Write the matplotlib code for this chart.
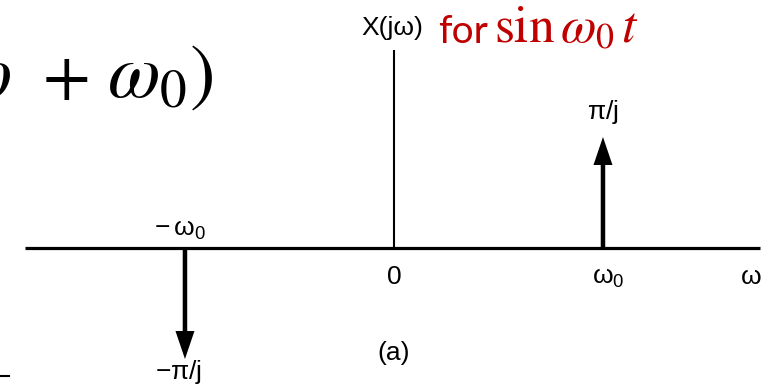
import matplotlib
matplotlib.use("Agg")
import matplotlib.pyplot as plt
from matplotlib.lines import Line2D

# Impulse locations (multiples of w0) and weights (multiples of pi, imaginary)
impulse_freqs = [-1.0, 1.0]
impulse_weights = [-1.0, 1.0]
weight_labels = [r"$\mathregular{-\pi/j}$", r"$\mathregular{\pi/j}$"]
freq_labels = [r"$\mathregular{-\,\omega_0}$", r"$\mathregular{\omega_0}$"]
origin_label = "0"
axis_label = "ω"
spectrum_label = "X(jω)"
caption = "(a)"
title_word = "for"
title_math = r"$\mathrm{sin}\,\omega_0\,t$"
formula_parts = [r"$\omega$", r"$+$", r"$\omega_0)$"]

W, H, DPI = 766, 385, 100
LABEL_FONT = "Liberation Sans"
LABEL_SIZE = 19

fig = plt.figure(figsize=(W / DPI, H / DPI), dpi=DPI)
ax = fig.add_axes([0, 0, 1, 1])
ax.set_xlim(-1.885, 1.780)
ax.set_ylim(-1.234, 2.234)
ax.axis("off")

# frequency axis and vertical axis
ax.plot([-1.766, 1.751], [0, 0], color="black", lw=2.3, solid_capstyle="butt")
ax.plot([0, 0], [0, 1.784], color="black", lw=1.5, solid_capstyle="butt")

# impulses
px_x = 209.0  # pixels per unit on x
px_y = 111.0  # pixels per unit on y
for f, w in zip(impulse_freqs, impulse_weights):
    ax.arrow(f, 0, 0, w, width=4.5 / px_x, head_width=19 / px_x,
             head_length=28 / px_y, length_includes_head=True,
             color="black", lw=0)

txt = dict(family=LABEL_FONT, fontsize=LABEL_SIZE, color="black")

# weight labels
for f, w, lab in zip(impulse_freqs, impulse_weights, weight_labels):
    if w > 0:
        ax.annotate(lab, xy=(f, w), xytext=(0, 25), textcoords="offset pixels",
                    ha="center", va="center", **txt)
    else:
        ax.annotate(lab, xy=(f, w), xytext=(-6, -20), textcoords="offset pixels",
                    ha="center", va="baseline", **txt)

# frequency labels: below the axis for positive, above for negative
for f, w, lab in zip(impulse_freqs, impulse_weights, freq_labels):
    if w > 0:
        ax.annotate(lab, xy=(f, 0), xytext=(5, -36), textcoords="offset pixels",
                    ha="center", va="baseline", **txt)
    else:
        ax.annotate(lab, xy=(f, 0), xytext=(-5, 12), textcoords="offset pixels",
                    ha="center", va="baseline", **txt)

ax.annotate(origin_label, xy=(0, 0), xytext=(0, -36), textcoords="offset pixels",
            ha="center", va="baseline", **txt)
ax.annotate(axis_label, xy=(1.751, 0), xytext=(-9, -36), textcoords="offset pixels",
            ha="center", va="baseline", **txt)
ax.annotate(spectrum_label, xy=(0, 1.784), xytext=(-2, 15), textcoords="offset pixels",
            ha="center", va="baseline", **txt)
ax.annotate(caption, xy=(0, 0), xytext=(0, -105), textcoords="offset pixels",
            ha="center", va="center", **txt)

# red heading next to the spectrum label
red = "#C00000"
fig.text(438 / W, 1 - 43 / H, title_word, family="Lato", fontsize=28,
         color=red, ha="left", va="baseline")
t = fig.text(494 / W, 1 - 43 / H, title_math, fontsize=37,
             color=red, ha="left", va="baseline")
t.set_math_fontfamily("stix")

# large formula running in from the left edge
base = 1 - 97 / H
anchors = [(11 / W, "right", 55), (65 / W, "center", 50), (213 / W, "right", 55)]
for part, (x, ha, size) in zip(formula_parts, anchors):
    ft = fig.text(x, base, part, fontsize=size, color="black",
                  ha=ha, va="baseline")
    ft.set_math_fontfamily("stix")

# fragment of a glyph at the lower left edge
fig.add_artist(Line2D([0, 9 / W], [1 - 376 / H, 1 - 376 / H],
                      transform=fig.transFigure, color="black", lw=1.5))

fig.savefig("out.png", dpi=DPI, facecolor="white")
